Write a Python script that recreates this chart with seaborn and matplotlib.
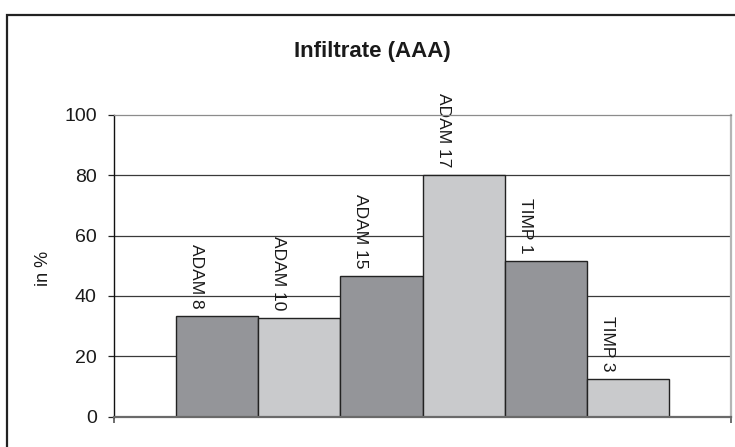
import matplotlib
matplotlib.use("Agg")
import matplotlib.pyplot as plt
import matplotlib.patches as mpatches
import seaborn as sns
import pandas as pd

# Data
categories = ["ADAM 8", "ADAM 10", "ADAM 15", "ADAM 17", "TIMP 1", "TIMP 3"]
values = [33.3, 32.8, 46.5, 80.0, 51.5, 12.6]
bar_colors = ["#949599", "#c9cacc", "#949599", "#c9cacc", "#949599", "#c9cacc"]
y_ticks = [0, 20, 40, 60, 80, 100]

sns.set_theme(style="white")
plt.rcParams["font.family"] = ["Liberation Sans", "DejaVu Sans"]

W, H = 735, 447
fig = plt.figure(figsize=(W / 100, H / 100), dpi=100)
fig.patch.set_facecolor("white")

# plot area in pixel terms
left, right, top, bottom = 114, 731, 114.7, 416.7
ax = fig.add_axes([left / W, 1 - bottom / H, (right - left) / W, (bottom - top) / H])

df = pd.DataFrame({"name": categories, "value": values})
sns.barplot(data=df, x="name", y="value", hue="name", palette=bar_colors,
            width=1.0, edgecolor="#222222", linewidth=1.0, legend=False,
            saturation=1, ax=ax, zorder=3)

ax.set_xlim(-1.25, len(categories) + 0.25)
ax.set_ylim(0, 100)

# horizontal gridlines
for t in y_ticks[1:-1]:
    ax.axhline(t, color="#3a3a3a", lw=0.9, zorder=1)

# bar name labels, rotated, sitting above each bar
for i, (name, v) in enumerate(zip(categories, values)):
    ax.text(i - 0.5 + 0.25, v + 2.5, name, rotation=-90, ha="center", va="bottom",
            fontsize=12.5, color="#1a1a1a", zorder=4)

ax.set_yticks(y_ticks)
ax.set_yticklabels([str(t) for t in y_ticks], fontsize=14, color="#1a1a1a")
ax.set_xticks([-1.25, len(categories) + 0.25])
ax.set_xticklabels(["", ""])
ax.tick_params(axis="y", direction="out", length=4.5, width=0.9, color="#222222",
               pad=8, left=True)
ax.tick_params(axis="x", direction="out", length=4.5, width=1.2, color="#555555",
               bottom=True)
ax.set_xlabel("")
ax.set_ylabel("in %", fontsize=13, color="#1a1a1a")
ax.yaxis.set_label_coords(-0.100, 0.49)

for side, spine in ax.spines.items():
    spine.set_visible(True)
ax.spines["left"].set_color("#111111")
ax.spines["left"].set_linewidth(1.0)
ax.spines["bottom"].set_color("#6a6a6a")
ax.spines["bottom"].set_linewidth(1.6)
ax.spines["top"].set_color("#8c8c8c")
ax.spines["top"].set_linewidth(0.9)
ax.spines["right"].set_color("#b5b5b5")
ax.spines["right"].set_linewidth(1.6)
for s in ax.spines.values():
    s.set_zorder(5)

# title centred over the chart area
fig.text(372.5 / W, 1 - 57 / H, "Infiltrate (AAA)", ha="center", va="baseline",
         fontsize=16, fontweight="bold", color="#1a1a1a")

# outer chart frame (runs off the right and bottom edges)
frame = mpatches.Rectangle((7.5 / W, -0.2), 1.2, 1.2 + (1 - 15.5 / H) - 1.0,
                           transform=fig.transFigure, fill=False,
                           edgecolor="#222222", linewidth=1.6)
fig.patches.append(frame)

fig.savefig("out.png", dpi=100, facecolor="white")
